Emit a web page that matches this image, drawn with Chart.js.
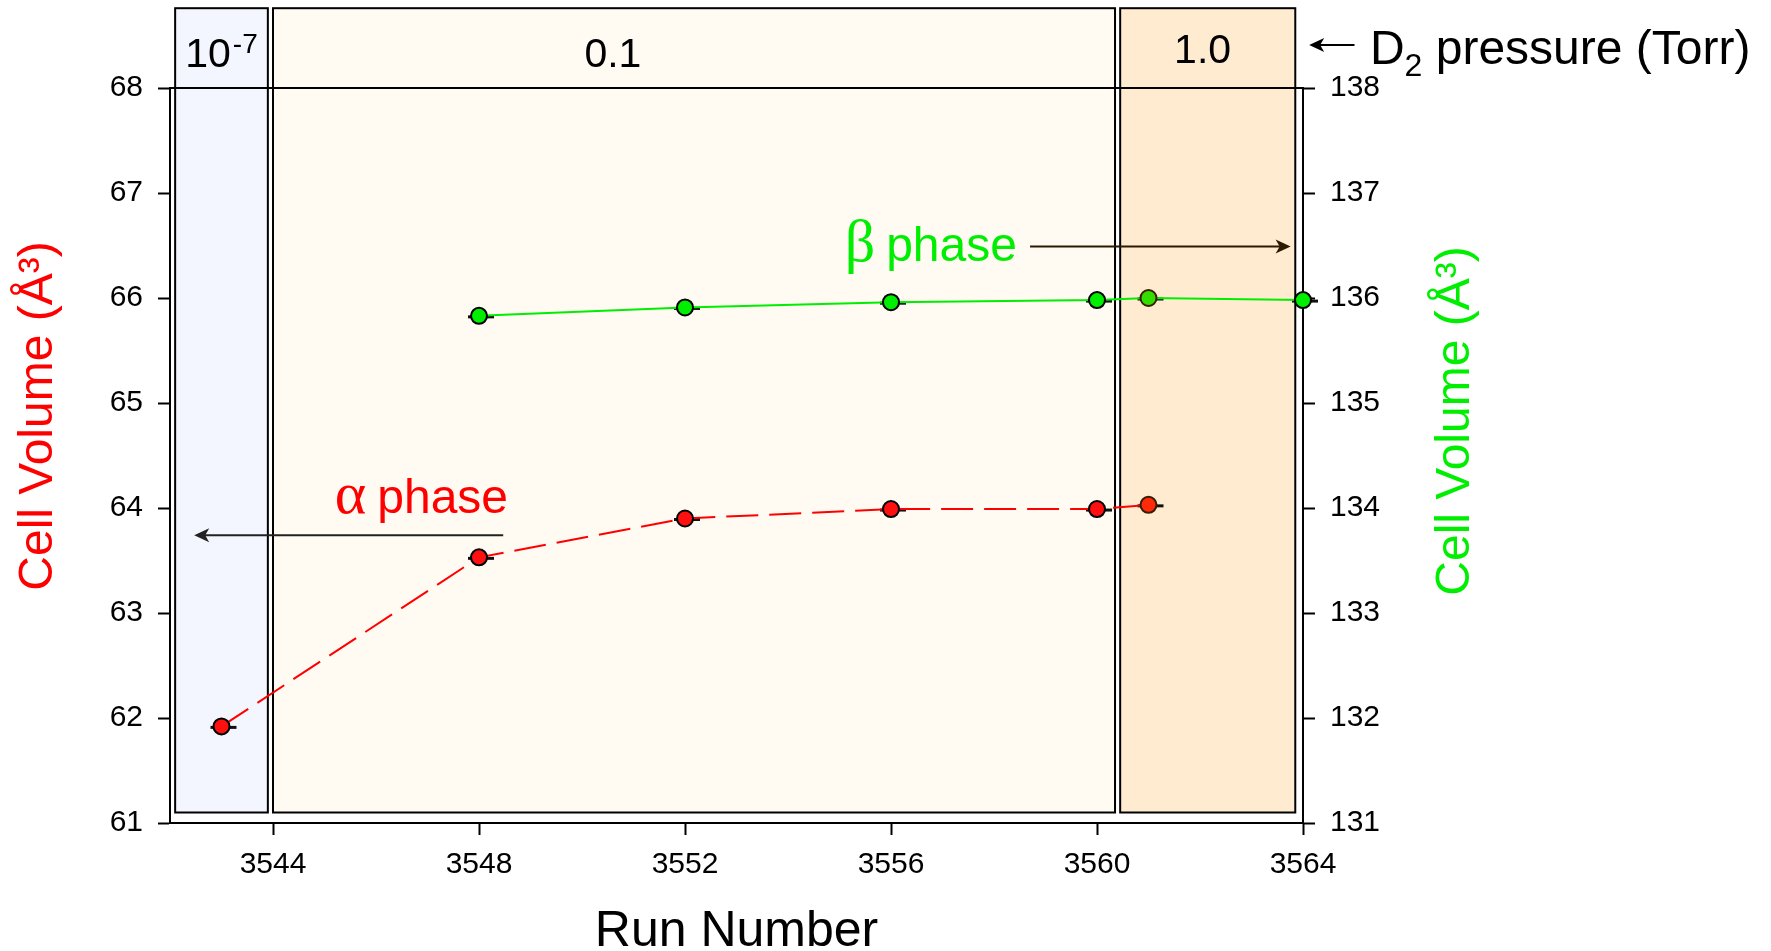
<!DOCTYPE html>
<html>
<head>
<meta charset="utf-8">
<title>Cell volume vs run number</title>
<script src="https://cdn.jsdelivr.net/npm/chart.js@4.4.1/dist/chart.umd.min.js"></script>
<style>
  html, body { margin: 0; padding: 0; background: #fff; }
  canvas { display: block; }
</style>
</head>
<body>
<canvas id="chart" width="1771" height="951"></canvas>
<script>
// Values
const alphaRuns = [3543, 3548, 3552, 3556, 3560, 3561];
const alphaVolume = [61.92, 63.53, 63.90, 63.99, 63.99, 64.03];
const betaRuns = [3548, 3552, 3556, 3560, 3561, 3564];
const betaVolume = [135.83, 135.91, 135.96, 135.98, 136.00, 135.98];

// Tick values
const runTicks = [3544, 3548, 3552, 3556, 3560, 3564];
const alphaTicks = [61, 62, 63, 64, 65, 66, 67, 68];
const betaTicks = [131, 132, 133, 134, 135, 136, 137, 138];

// D2 pressure regions (in run numbers)
const pressureLabels = ['10', '0.1', '1.0'];
const pressureFrom = [3542.1, 3544.0, 3560.45];
const pressureTo = [3543.9, 3560.35, 3563.85];
const pressureLabelRun = [3543, 3550.6, 3562.05];

const pressureFills = ['#f3f6fe', '#fffbf3', '#feebd0'];
const FONT = '"Liberation Sans", Arial, sans-serif';
const SERIF = '"Liberation Serif", "Times New Roman", serif';
const regionBottom = 61.1;
const regionTop = 68.76;

// Arrow with a filled head, horizontal
function arrow(ctx, x1, x2, y, color) {
    const dir = Math.sign(x2 - x1);
    ctx.strokeStyle = color;
    ctx.fillStyle = color;
    ctx.lineWidth = 2;
    ctx.beginPath();
    ctx.moveTo(x1, y);
    ctx.lineTo(x2 - dir * 10, y);
    ctx.stroke();
    ctx.beginPath();
    ctx.moveTo(x2, y);
    ctx.lineTo(x2 - dir * 15, y - 7);
    ctx.lineTo(x2 - dir * 11, y);
    ctx.lineTo(x2 - dir * 15, y + 7);
    ctx.closePath();
    ctx.fill();
}

function phaseLabel(ctx, greek, x, y, color) {
    ctx.fillStyle = color;
    ctx.textAlign = 'left';
    ctx.textBaseline = 'alphabetic';
    ctx.font = '60px ' + SERIF;
    ctx.fillText(greek, x, y);
    const w = ctx.measureText(greek).width;
    ctx.font = '48px ' + FONT;
    ctx.fillText('phase', x + w + 11, y);
}

const backdrop = {
    id: 'backdrop',
    beforeDatasetsDraw(chart) {
        const {ctx, chartArea, scales: {x, y}} = chart;
        ctx.save();
        const top = y.getPixelForValue(regionTop);
        const bottom = y.getPixelForValue(regionBottom);
        pressureFrom.forEach((from, i) => {
            const left = x.getPixelForValue(from);
            const right = x.getPixelForValue(pressureTo[i]);
            ctx.fillStyle = pressureFills[i];
            ctx.fillRect(left, top, right - left, bottom - top);
            ctx.strokeStyle = '#000';
            ctx.lineWidth = 2;
            ctx.strokeRect(left, top, right - left, bottom - top);
        });

        // line across the top at 68 / 138
        ctx.strokeStyle = '#000';
        ctx.lineWidth = 2;
        ctx.beginPath();
        ctx.moveTo(chartArea.left, chartArea.top);
        ctx.lineTo(chartArea.right, chartArea.top);
        ctx.stroke();

        // small error bars behind the markers
        ctx.strokeStyle = '#111';
        ctx.lineWidth = 3;
        chart.data.datasets.forEach((ds, i) => {
            chart.getDatasetMeta(i).data.forEach(pt => {
                ctx.beginPath();
                ctx.moveTo(pt.x - 11, pt.y + 1);
                ctx.lineTo(pt.x + 15, pt.y + 1);
                ctx.stroke();
            });
        });
        ctx.restore();
    },
    afterDatasetsDraw(chart) {
        const {ctx, scales: {x, y, y2}} = chart;
        ctx.save();

        // pressure labels
        ctx.fillStyle = '#000';
        ctx.textBaseline = 'alphabetic';
        const labelY = y.getPixelForValue(68.2);
        pressureLabels.forEach((lab, i) => {
            const cx = x.getPixelForValue(pressureLabelRun[i]);
            ctx.font = '41px ' + FONT;
            if (i === 0) {
                const w1 = ctx.measureText(lab).width;
                ctx.font = '28px ' + FONT;
                const w2 = ctx.measureText('-7').width;
                const start = cx - (w1 + w2 + 2) / 2;
                ctx.textAlign = 'left';
                ctx.font = '41px ' + FONT;
                ctx.fillText(lab, start, labelY);
                ctx.font = '28px ' + FONT;
                ctx.fillText('-7', start + w1 + 2, labelY - 14);
            } else {
                ctx.textAlign = 'center';
                ctx.fillText(lab, cx, i === 2 ? labelY - 4 : labelY);
            }
        });

        // D2 pressure note
        const dY = y.getPixelForValue(68.23);
        arrow(ctx, x.getPixelForValue(3565.0), x.getPixelForValue(3564.12), y.getPixelForValue(68.41), '#000');
        ctx.fillStyle = '#000';
        ctx.textAlign = 'left';
        let dx = x.getPixelForValue(3565.3);
        ctx.font = '48px ' + FONT;
        ctx.fillText('D', dx, dY);
        dx += ctx.measureText('D').width;
        ctx.font = '32px ' + FONT;
        ctx.fillText('2', dx, dY + 12);
        dx += ctx.measureText('2').width;
        ctx.font = '48px ' + FONT;
        ctx.fillText(' pressure (Torr)', dx, dY);

        // phase notes
        phaseLabel(ctx, 'α', x.getPixelForValue(3545.2), y.getPixelForValue(63.95), '#ff0000');
        arrow(ctx, x.getPixelForValue(3548.47), x.getPixelForValue(3542.47), y.getPixelForValue(63.74), '#222');
        phaseLabel(ctx, 'β', x.getPixelForValue(3555.1), y2.getPixelForValue(136.35), '#00ee00');
        arrow(ctx, x.getPixelForValue(3558.7), x.getPixelForValue(3563.76), y2.getPixelForValue(136.49), '#2a1a00');

        // axis titles, both reading bottom to top
        ctx.font = '48px ' + FONT;
        ctx.textAlign = 'center';
        ctx.textBaseline = 'alphabetic';
        [[52, 416, '#ff0000'], [1469, 421, '#00ee00']].forEach(([tx, ty, col]) => {
            ctx.save();
            ctx.translate(tx, ty);
            ctx.rotate(-Math.PI / 2);
            ctx.fillStyle = col;
            ctx.fillText('Cell Volume (Å³)', 0, 0);
            ctx.restore();
        });
        ctx.restore();
    }
};

const inHighPressure = ctx => ctx.raw && ctx.raw.x > pressureFrom[2] && ctx.raw.x < pressureTo[2];

const axisGrid = {
    drawOnChartArea: false,
    drawTicks: true,
    tickLength: 12,
    tickColor: '#000',
    tickWidth: 2
};
const axisBorder = { display: true, color: '#000', width: 2 };
const tickFont = { family: FONT, size: 30 };

new Chart(document.getElementById('chart'), {
    type: 'line',
    data: {
        datasets: [{
            label: 'α phase',
            data: alphaRuns.map((r, i) => ({ x: r, y: alphaVolume[i] })),
            yAxisID: 'y',
            borderColor: '#ff0000',
            borderWidth: 2,
            borderDash: [32, 11],
            pointRadius: 8,
            pointBorderWidth: 2,
            pointBackgroundColor: c => inHighPressure(c) ? '#ff2a0a' : '#ff1010',
            pointBorderColor: c => inHighPressure(c) ? '#3a1d00' : '#000',
            clip: false
        }, {
            label: 'β phase',
            data: betaRuns.map((r, i) => ({ x: r, y: betaVolume[i] })),
            yAxisID: 'y2',
            borderColor: '#00ee00',
            borderWidth: 2,
            pointRadius: 8,
            pointBorderWidth: 2,
            pointBackgroundColor: c => inHighPressure(c) ? '#33dd00' : '#00ee00',
            pointBorderColor: c => inHighPressure(c) ? '#3a1d00' : '#000',
            clip: false
        }]
    },
    options: {
        responsive: false,
        animation: false,
        events: [],
        layout: { padding: { top: 88, left: 0, right: 0, bottom: 0 } },
        plugins: {
            legend: { display: false },
            tooltip: { enabled: false }
        },
        scales: {
            x: {
                type: 'linear',
                min: 3542,
                max: 3564,
                afterBuildTicks: s => { s.ticks = runTicks.map(v => ({ value: v })); },
                afterFit: s => { s.height = 128; },
                grid: axisGrid,
                border: axisBorder,
                ticks: { color: '#000', font: tickFont, padding: 12, callback: v => String(v), maxRotation: 0 },
                title: {
                    display: true,
                    text: 'Run Number',
                    color: '#000',
                    font: { family: FONT, size: 50, lineHeight: 0.76 },
                    padding: 0
                }
            },
            y: {
                position: 'left',
                min: 61,
                max: 68,
                afterBuildTicks: s => { s.ticks = alphaTicks.map(v => ({ value: v })); },
                afterFit: s => { s.width = 170; },
                grid: axisGrid,
                border: axisBorder,
                ticks: { color: '#000', font: tickFont, padding: 15, callback: v => String(v) }
            },
            y2: {
                position: 'right',
                min: 131,
                max: 138,
                afterBuildTicks: s => { s.ticks = betaTicks.map(v => ({ value: v })); },
                afterFit: s => { s.width = 468; },
                grid: axisGrid,
                border: axisBorder,
                ticks: { color: '#000', font: tickFont, padding: 15, callback: v => String(v) }
            }
        }
    },
    plugins: [backdrop]
});
</script>
</body>
</html>
